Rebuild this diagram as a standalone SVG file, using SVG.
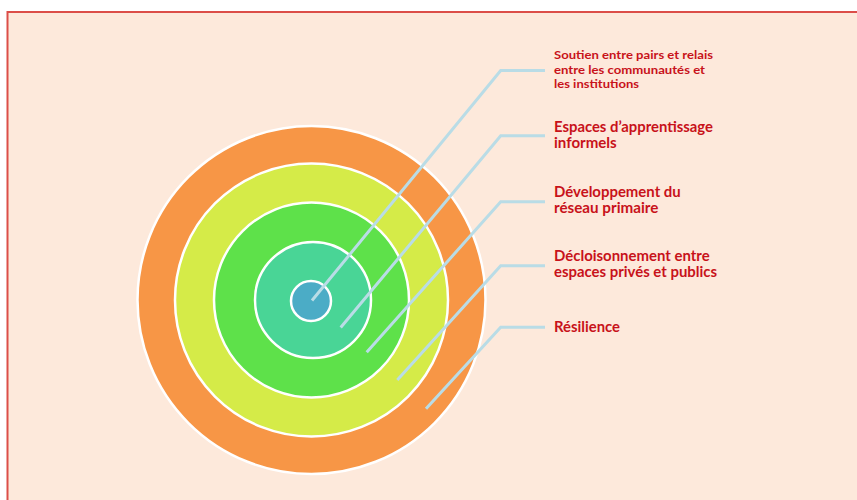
<svg xmlns="http://www.w3.org/2000/svg" width="857" height="500" viewBox="0 0 857 500">
<style>
.ring{stroke:#ffffff;stroke-width:2.5}
.conn{fill:none;stroke:#b9dce6;stroke-width:3;stroke-linejoin:miter}
.lbl{font-family:Lato,"Open Sans","Liberation Sans",sans-serif;font-weight:bold;fill:#c8121a}
.s12{font-size:12px}
.s14{font-size:14.5px}
</style>
<rect x="0" y="0" width="857" height="500" fill="#ffffff"/>
<rect x="7.5" y="12" width="860" height="500" fill="#fde9db" stroke="#dc4e48" stroke-width="2"/>
<g id="rings">
<circle id="ring-resilience" class="ring" cx="311.5" cy="300" r="174" fill="#f79646"/>
<circle id="ring-decloisonnement" class="ring" cx="311.5" cy="300" r="136.5" fill="#d5eb48"/>
<circle id="ring-developpement" class="ring" cx="311.5" cy="300" r="97.5" fill="#5ee14a"/>
<circle id="ring-espaces" class="ring" cx="313" cy="300" r="58" fill="#49d596"/>
<circle id="ring-soutien" class="ring" cx="311" cy="301" r="20" fill="#4bacc6"/>
</g>
<g id="connectors">
<polyline class="conn" points="545,70.5 500.7,70.5 312,300.5"/>
<polyline class="conn" points="545,135.7 500.7,135.7 340.7,327.5"/>
<polyline class="conn" points="545,201.7 500.7,201.7 366.7,352.3"/>
<polyline class="conn" points="545,265.7 500.7,265.7 397.3,380"/>
<polyline class="conn" points="545,327.3 500.7,327.3 426,408.7"/>
</g>
<g id="label-soutien">
<text class="lbl s12" x="554" y="59.3" textLength="159" lengthAdjust="spacingAndGlyphs">Soutien entre pairs et relais</text>
<text class="lbl s12" x="554" y="73.6" textLength="151" lengthAdjust="spacingAndGlyphs">entre les communautés et</text>
<text class="lbl s12" x="554" y="87.9" textLength="85" lengthAdjust="spacingAndGlyphs">les institutions</text>
</g>
<g id="label-espaces">
<text class="lbl s14" x="554" y="131.7" textLength="159" lengthAdjust="spacingAndGlyphs">Espaces d’apprentissage</text>
<text class="lbl s14" x="554" y="148.3" textLength="62.7" lengthAdjust="spacingAndGlyphs">informels</text>
</g>
<g id="label-developpement">
<text class="lbl s14" x="554" y="196.7" textLength="126.7" lengthAdjust="spacingAndGlyphs">Développement du</text>
<text class="lbl s14" x="554" y="213.3" textLength="104.4" lengthAdjust="spacingAndGlyphs">réseau primaire</text>
</g>
<g id="label-decloisonnement">
<text class="lbl s14" x="554" y="260.7" textLength="155.7" lengthAdjust="spacingAndGlyphs">Décloisonnement entre</text>
<text class="lbl s14" x="554" y="277.3" textLength="163" lengthAdjust="spacingAndGlyphs">espaces privés et publics</text>
</g>
<g id="label-resilience">
<text class="lbl s14" x="554" y="331.7" textLength="66" lengthAdjust="spacingAndGlyphs">Résilience</text>
</g>
</svg>
